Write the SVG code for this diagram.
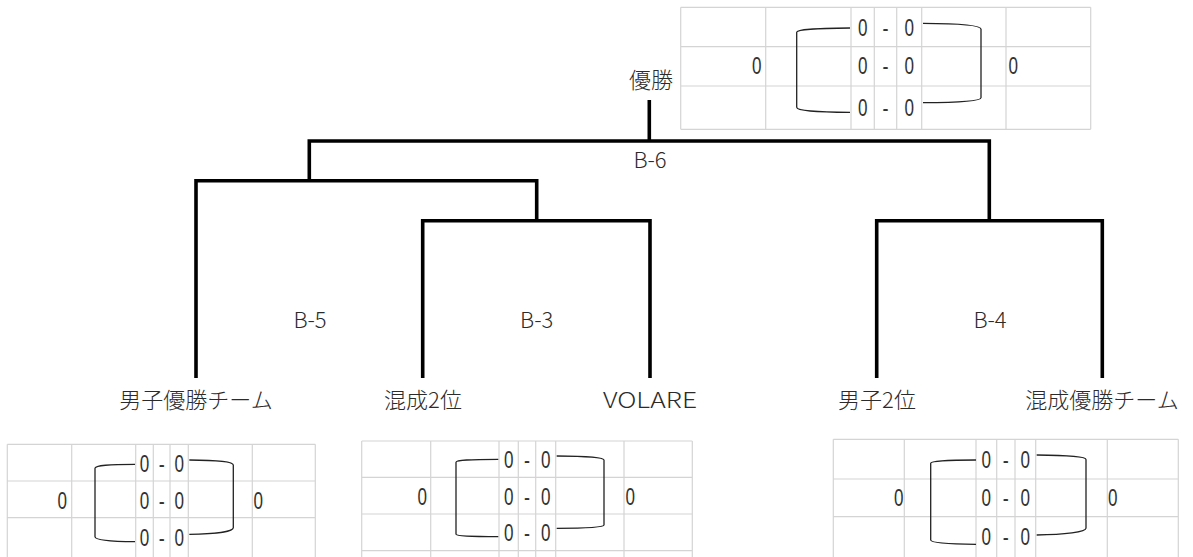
<svg xmlns="http://www.w3.org/2000/svg" width="1193" height="557" viewBox="0 0 1193 557">
<style>
.bg{fill:#fff}
.grid{stroke:#d4d4d4;stroke-width:1.2;fill:none}
.br{stroke:#222;stroke-width:1.3;fill:none}
.wire{stroke:#000;stroke-width:3.6;fill:none;stroke-linejoin:miter;stroke-linecap:butt}
.lbl{font-family:"Noto Sans CJK JP","Liberation Sans",sans-serif;font-size:22px;font-weight:300;fill:#2b2b2b;dominant-baseline:central;text-anchor:middle}
.num{font-family:"Liberation Sans",sans-serif;font-size:23px;fill:#333;dominant-baseline:central}
.c{text-anchor:middle}
.e{text-anchor:end}
.s{text-anchor:start}
</style>
<rect class="bg" x="0" y="0" width="1193" height="557"/>

<g id="connectors">
<path class="wire" d="M649.3 100 V141"/>
<path class="wire" d="M309.3 180.7 V141 H989.3 V220.7"/>
<path class="wire" d="M196 378 V180.7 H536.7 V220.7"/>
<path class="wire" d="M422.7 378 V220.7 H650 V378"/>
<path class="wire" d="M876.7 378 V220.7 H1102.3 V378"/>
</g>

<g id="final">
<text class="lbl" x="651" y="77.5">優勝</text>
<path class="grid" d="M680.7 7.3 H1090.7 M680.7 46.7 H1090.7 M680.7 86 H1090.7 M680.7 129.3 H1090.7 M680.7 7.3 V129.3 M765.7 7.3 V129.3 M851 7.3 V129.3 M874.3 7.3 V129.3 M896.7 7.3 V129.3 M921.7 7.3 V129.3 M1006 7.3 V129.3 M1090.7 7.3 V129.3"/>
<path class="br" d="M850 28 C815 28.5 796.7 29 796.7 32.3 V107.3 C796.7 110.8 815 112 850 112.3"/>
<path class="br" d="M923 23.3 C960 23.5 981 25 981 29 V97.7 C981 101 960 102.5 923 102.7"/>
<text class="num c" x="862.7" y="27.5" textLength="9.5" lengthAdjust="spacingAndGlyphs">0</text><text class="num c" x="885.5" y="27.5" textLength="6" lengthAdjust="spacingAndGlyphs">-</text><text class="num c" x="909.2" y="27.5" textLength="9.5" lengthAdjust="spacingAndGlyphs">0</text>
<text class="num c" x="862.7" y="66" textLength="9.5" lengthAdjust="spacingAndGlyphs">0</text><text class="num c" x="885.5" y="66" textLength="6" lengthAdjust="spacingAndGlyphs">-</text><text class="num c" x="909.2" y="66" textLength="9.5" lengthAdjust="spacingAndGlyphs">0</text>
<text class="num c" x="862.7" y="108.3" textLength="9.5" lengthAdjust="spacingAndGlyphs">0</text><text class="num c" x="885.5" y="108.3" textLength="6" lengthAdjust="spacingAndGlyphs">-</text><text class="num c" x="909.2" y="108.3" textLength="9.5" lengthAdjust="spacingAndGlyphs">0</text>
<text class="num e" x="761.5" y="66" textLength="9.5" lengthAdjust="spacingAndGlyphs">0</text>
<text class="num s" x="1008.5" y="66" textLength="9.5" lengthAdjust="spacingAndGlyphs">0</text>
</g>

<g id="B-6"><text class="lbl" x="650" y="158.3">B-6</text></g>
<g id="B-5"><text class="lbl" x="310" y="318.3">B-5</text></g>
<g id="B-3"><text class="lbl" x="536.7" y="318.3">B-3</text></g>
<g id="B-4"><text class="lbl" x="990" y="318.3">B-4</text></g>

<g id="team1"><text class="lbl" x="196" y="397.5">男子優勝チーム</text></g>
<g id="team2"><text class="lbl" x="423" y="397.5">混成2位</text></g>
<g id="team3"><text class="lbl" x="650" y="397.5" textLength="94" lengthAdjust="spacingAndGlyphs">VOLARE</text></g>
<g id="team4"><text class="lbl" x="877" y="397.5">男子2位</text></g>
<g id="team5"><text class="lbl" x="1102" y="397.5">混成優勝チーム</text></g>

<g id="score-B5">
<path class="grid" d="M7.3 444.3 H315.3 M7.3 481 H315.3 M7.3 517.7 H315.3 M7.3 444.3 V557 M71.7 444.3 V557 M135.7 444.3 V557 M153.3 444.3 V557 M170 444.3 V557 M188.3 444.3 V557 M252.3 444.3 V557 M315.3 444.3 V557"/>
<path class="br" d="M135 464.3 C110 464.5 95 465 95 468.3 V536.7 C95 540 110 541.5 135 541.7"/>
<path class="br" d="M189.3 460 C215 460.2 233.3 461.5 233.3 465 V527.7 C233.3 531.5 215 534 189.3 534.3"/>
<text class="num c" x="144.5" y="464" textLength="9.5" lengthAdjust="spacingAndGlyphs">0</text><text class="num c" x="161.7" y="464" textLength="6" lengthAdjust="spacingAndGlyphs">-</text><text class="num c" x="179.2" y="464" textLength="9.5" lengthAdjust="spacingAndGlyphs">0</text>
<text class="num c" x="144.5" y="500.8" textLength="9.5" lengthAdjust="spacingAndGlyphs">0</text><text class="num c" x="161.7" y="500.8" textLength="6" lengthAdjust="spacingAndGlyphs">-</text><text class="num c" x="179.2" y="500.8" textLength="9.5" lengthAdjust="spacingAndGlyphs">0</text>
<text class="num c" x="144.5" y="537.5" textLength="9.5" lengthAdjust="spacingAndGlyphs">0</text><text class="num c" x="161.7" y="537.5" textLength="6" lengthAdjust="spacingAndGlyphs">-</text><text class="num c" x="179.2" y="537.5" textLength="9.5" lengthAdjust="spacingAndGlyphs">0</text>
<text class="num e" x="67" y="500.8" textLength="9.5" lengthAdjust="spacingAndGlyphs">0</text>
<text class="num s" x="253.5" y="500.8" textLength="9.5" lengthAdjust="spacingAndGlyphs">0</text>
</g>

<g id="score-B3">
<path class="grid" d="M361.7 441 H692.3 M361.7 477.3 H692.3 M361.7 514 H692.3 M361.7 550.7 H692.3 M361.7 441 V557 M430.7 441 V557 M499 441 V557 M518.3 441 V557 M535.7 441 V557 M555.7 441 V557 M624 441 V557 M692.3 441 V557"/>
<path class="br" d="M498.3 459.3 C470 459.5 456 460 456 462.3 V534.3 C456 536 470 536.5 498.3 536.7"/>
<path class="br" d="M556.7 456 C585 456.2 604 457.5 604 460 V525 C604 527.5 585 528.2 556.7 528.3"/>
<text class="num c" x="508.7" y="460" textLength="9.5" lengthAdjust="spacingAndGlyphs">0</text><text class="num c" x="527" y="460" textLength="6" lengthAdjust="spacingAndGlyphs">-</text><text class="num c" x="545.7" y="460" textLength="9.5" lengthAdjust="spacingAndGlyphs">0</text>
<text class="num c" x="508.7" y="496.7" textLength="9.5" lengthAdjust="spacingAndGlyphs">0</text><text class="num c" x="527" y="496.7" textLength="6" lengthAdjust="spacingAndGlyphs">-</text><text class="num c" x="545.7" y="496.7" textLength="9.5" lengthAdjust="spacingAndGlyphs">0</text>
<text class="num c" x="508.7" y="533.3" textLength="9.5" lengthAdjust="spacingAndGlyphs">0</text><text class="num c" x="527" y="533.3" textLength="6" lengthAdjust="spacingAndGlyphs">-</text><text class="num c" x="545.7" y="533.3" textLength="9.5" lengthAdjust="spacingAndGlyphs">0</text>
<text class="num e" x="427" y="496.7" textLength="9.5" lengthAdjust="spacingAndGlyphs">0</text>
<text class="num s" x="625.5" y="496.7" textLength="9.5" lengthAdjust="spacingAndGlyphs">0</text>
</g>

<g id="score-B4">
<path class="grid" d="M833.3 439.3 H1178.3 M833.3 479 H1178.3 M833.3 516.7 H1178.3 M833.3 439.3 V557 M904.3 439.3 V557 M976 439.3 V557 M996.7 439.3 V557 M1015 439.3 V557 M1035.7 439.3 V557 M1107.3 439.3 V557 M1178.3 439.3 V557"/>
<path class="br" d="M976 460 C945 460.2 930.7 461 930.7 463.3 V540 C930.7 542.5 945 544 976 544.3"/>
<path class="br" d="M1036.7 455 C1065 455.2 1086 456.5 1086 459.5 V528.3 C1086 532 1065 534.7 1036.7 535"/>
<text class="num c" x="986.3" y="460" textLength="9.5" lengthAdjust="spacingAndGlyphs">0</text><text class="num c" x="1005.8" y="460" textLength="6" lengthAdjust="spacingAndGlyphs">-</text><text class="num c" x="1025.3" y="460" textLength="9.5" lengthAdjust="spacingAndGlyphs">0</text>
<text class="num c" x="986.3" y="498.3" textLength="9.5" lengthAdjust="spacingAndGlyphs">0</text><text class="num c" x="1005.8" y="498.3" textLength="6" lengthAdjust="spacingAndGlyphs">-</text><text class="num c" x="1025.3" y="498.3" textLength="9.5" lengthAdjust="spacingAndGlyphs">0</text>
<text class="num c" x="986.3" y="536.7" textLength="9.5" lengthAdjust="spacingAndGlyphs">0</text><text class="num c" x="1005.8" y="536.7" textLength="6" lengthAdjust="spacingAndGlyphs">-</text><text class="num c" x="1025.3" y="536.7" textLength="9.5" lengthAdjust="spacingAndGlyphs">0</text>
<text class="num e" x="903.5" y="498.3" textLength="9.5" lengthAdjust="spacingAndGlyphs">0</text>
<text class="num s" x="1108" y="498.3" textLength="9.5" lengthAdjust="spacingAndGlyphs">0</text>
</g>
</svg>
